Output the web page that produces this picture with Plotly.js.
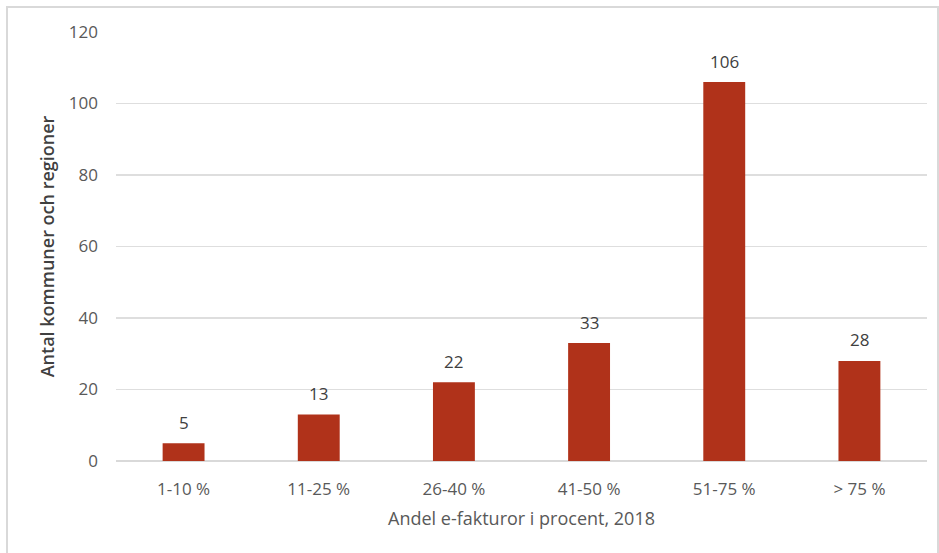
<!DOCTYPE html>
<html>
<head>
<meta charset="utf-8">
<script src="https://cdn.plot.ly/plotly-3.0.1.min.js"></script>
<style>
html,body{margin:0;padding:0;background:#fff;}
#wrap{position:relative;width:939px;height:553px;overflow:hidden;}
#chart{position:absolute;left:0;top:0;width:939px;height:553px;}
#frame{position:absolute;left:6px;top:6px;width:929px;height:570px;border:2px solid #d9d9d9;pointer-events:none;}
</style>
</head>
<body>
<div id="wrap"><div id="chart"></div><div id="frame"></div></div>
<script>
const categories = ["1-10 %", "11-25 %", "26-40 %", "41-50 %", "51-75 %", "> 75 %"];
const values = [5, 13, 22, 33, 106, 28];
const yTickValues = [0, 20, 40, 60, 80, 100, 120];
const xTitle = "Andel e-fakturor i procent, 2018";
const yTitle = "Antal kommuner och regioner";

const fontFam = "Open Sans, Liberation Sans, sans-serif";

const trace = {
  type: "bar",
  x: categories,
  y: values,
  marker: {color: "#B0321A"},
  hoverinfo: "x+y"
};

const annotations = categories.map((c, i) => ({
  x: c, y: values[i], xref: "x", yref: "y",
  text: String(values[i]), showarrow: false,
  yshift: 21, font: {family: fontFam, size: 17, color: "#404040"}
}));

const layout = {
  width: 939, height: 553,
  margin: {l: 116, r: 12, t: 32, b: 92},
  paper_bgcolor: "#ffffff", plot_bgcolor: "#ffffff",
  bargap: 0.69,
  showlegend: false,
  font: {family: fontFam, size: 17, color: "#595959"},
  xaxis: {
    type: "category",
    showgrid: false, showline: false, zeroline: false,
    ticks: "", ticklen: 0, ticklabelstandoff: 16,
    tickfont: {family: fontFam, size: 17, color: "#595959"},
    title: {text: xTitle, font: {family: fontFam, size: 18, color: "#595959"}, standoff: 13}
  },
  yaxis: {
    range: [0, 120],
    tickvals: yTickValues,
    ticktext: yTickValues.map(String),
    showgrid: true, gridcolor: "#dedede", gridwidth: 1.5,
    zeroline: true, zerolinecolor: "#d9d9d9", zerolinewidth: 1.5,
    showline: false, ticks: "", ticklabelstandoff: 17,
    tickfont: {family: fontFam, size: 17, color: "#595959"},
    title: {text: yTitle, font: {family: fontFam, size: 18, color: "#404040", weight: 600}, standoff: 9}
  },
  annotations: annotations
};

Plotly.newPlot("chart", [trace], layout, {displayModeBar: false, staticPlot: true});
</script>
</body>
</html>
